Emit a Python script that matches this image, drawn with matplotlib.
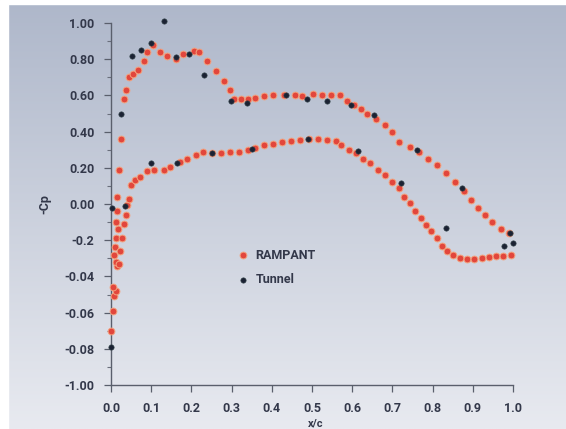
import matplotlib
matplotlib.use('Agg')
import matplotlib.pyplot as plt
import numpy as np
from matplotlib.ticker import MultipleLocator

# RAMPANT (computed) - upper surface, leading edge to trailing edge
ramp_up_x = [0.001, 0.005, 0.008, 0.012, 0.006, 0.014, 0.012, 0.008, 0.010, 0.012,
             0.017, 0.012, 0.014, 0.015, 0.019, 0.024, 0.032, 0.037, 0.044, 0.055,
             0.068, 0.081, 0.090, 0.104, 0.122, 0.140, 0.162, 0.180, 0.207, 0.220,
             0.238, 0.260, 0.280, 0.296, 0.305, 0.323, 0.341, 0.359, 0.381, 0.403,
             0.430, 0.457, 0.475, 0.502, 0.524, 0.547, 0.569, 0.587, 0.605, 0.623,
             0.636, 0.658, 0.681, 0.699, 0.716, 0.743, 0.766, 0.788, 0.810, 0.833,
             0.855, 0.877, 0.895, 0.913, 0.931, 0.949, 0.971, 0.989]
ramp_up_y = [-0.70, -0.59, -0.51, -0.48, -0.46, -0.34, -0.32, -0.28, -0.24, -0.19,
             -0.14, -0.10, -0.04, 0.04, 0.19, 0.36, 0.58, 0.63, 0.70, 0.72,
             0.74, 0.79, 0.84, 0.88, 0.84, 0.82, 0.80, 0.83, 0.845, 0.84,
             0.79, 0.735, 0.68, 0.63, 0.58, 0.58, 0.58, 0.585, 0.595, 0.60,
             0.60, 0.60, 0.595, 0.607, 0.60, 0.60, 0.60, 0.57, 0.545, 0.525,
             0.50, 0.47, 0.435, 0.40, 0.34, 0.315, 0.29, 0.25, 0.215, 0.17,
             0.12, 0.07, 0.02, -0.02, -0.06, -0.10, -0.14, -0.16]

# RAMPANT - lower surface
ramp_lo_x = [0.019, 0.023, 0.028, 0.032, 0.037, 0.041, 0.046, 0.050, 0.059, 0.072,
             0.090, 0.108, 0.131, 0.148, 0.171, 0.189, 0.211, 0.229, 0.251, 0.274,
             0.296, 0.318, 0.341, 0.359, 0.381, 0.403, 0.426, 0.448, 0.470, 0.493,
             0.515, 0.538, 0.560, 0.573, 0.591, 0.609, 0.627, 0.645, 0.663, 0.681,
             0.699, 0.716, 0.730, 0.743, 0.757, 0.770, 0.784, 0.797, 0.810, 0.824,
             0.837, 0.851, 0.869, 0.886, 0.904, 0.922, 0.940, 0.958, 0.976, 0.994]
ramp_lo_y = [-0.33, -0.26, -0.19, -0.11, -0.06, -0.005, 0.03, 0.105, 0.13, 0.15,
             0.18, 0.19, 0.19, 0.205, 0.23, 0.25, 0.27, 0.29, 0.28, 0.28,
             0.285, 0.29, 0.297, 0.31, 0.324, 0.333, 0.34, 0.346, 0.352, 0.357,
             0.357, 0.352, 0.346, 0.324, 0.297, 0.28, 0.25, 0.224, 0.187, 0.16,
             0.123, 0.087, 0.041, 0.005, -0.041, -0.078, -0.114, -0.151, -0.187, -0.233,
             -0.26, -0.28, -0.297, -0.306, -0.306, -0.297, -0.293, -0.288, -0.288, -0.282]

# wind tunnel measurements
tunnel_x = [0.003, 0.0, 0.026, 0.035, 0.051, 0.074, 0.100, 0.131, 0.162, 0.195,
            0.231, 0.299, 0.338, 0.436, 0.487, 0.538, 0.596, 0.655, 0.760, 0.873,
            0.834, 0.978, 0.992, 1.0,
            0.100, 0.165, 0.250, 0.351, 0.491, 0.614, 0.722]
tunnel_y = [-0.02, -0.79, 0.50, -0.01, 0.82, 0.85, 0.89, 1.01, 0.81, 0.83,
            0.71, 0.57, 0.56, 0.60, 0.58, 0.57, 0.545, 0.49, 0.30, 0.087,
            -0.134, -0.23, -0.162, -0.215,
            0.227, 0.224, 0.282, 0.302, 0.359, 0.295, 0.118]

yticks = [1.0, 0.8, 0.6, 0.4, 0.2, 0.0, -0.2, -0.4, -0.6, -0.8, -1.0]
ylabels = ['1.00', '0.80', '0.60', '0.40', '0.20', '0.00', '-0.2',
           '-0.04', '-0.06', '-0.08', '-1.00']
xticks = [0.0, 0.1, 0.2, 0.3, 0.4, 0.5, 0.6, 0.7, 0.8, 0.9, 1.0]
xlabels = ['0.0', '0.1', '0.2', '0.3', '0.4', '0.5', '0.6', '0.7', '0.8', '0.9', '1.0']

plt.rcParams['font.family'] = ['Roboto', 'DejaVu Sans']
txtcol = '#33384a'
fsz = 9

fig = plt.figure(figsize=(5.66, 4.29), dpi=100)

# scanned-page gradient background
bg = fig.add_axes([0, 0, 1, 1], zorder=-10)
g = np.linspace(0, 1, 256)[:, None]
top = np.array([174, 183, 202]) / 255.
bot = np.array([232, 234, 240]) / 255.
img = top[None, None, :] * (1 - g[:, :, None]) + bot[None, None, :] * g[:, :, None]
img = np.repeat(img, 4, axis=1)
bg.imshow(img, aspect='auto', extent=[0, 1, 0, 1], origin='upper')
bg.axvspan(0, 8 / 566., color='white')
bg.axhspan(1 - 4 / 429., 1, color='white')
bg.set_xlim(0, 1)
bg.set_ylim(0, 1)
bg.axis('off')

ax = fig.add_axes([111 / 566., 44 / 429., 402 / 566., 362 / 429.])
ax.set_facecolor('none')

ax.scatter(ramp_up_x, ramp_up_y, s=24, c='#e2463c', edgecolors='#f3a27e',
           linewidths=0.7, zorder=3, label='RAMPANT', clip_on=False)
ax.scatter(ramp_lo_x, ramp_lo_y, s=24, c='#e2463c', edgecolors='#f3a27e',
           linewidths=0.7, zorder=3, clip_on=False)
ax.scatter(tunnel_x, tunnel_y, s=15, c='#1b2233', edgecolors='#3a4a50',
           linewidths=0.4, zorder=4, label='Tunnel', clip_on=False)

ax.set_xlim(0, 1.0)
ax.set_ylim(-1.0, 1.0)
ax.set_xticks(xticks)
ax.set_xticklabels(xlabels)
ax.set_yticks(yticks)
ax.set_yticklabels(ylabels)
ax.yaxis.set_minor_locator(MultipleLocator(0.1))

for s in ['top', 'right']:
    ax.spines[s].set_visible(False)
for s in ['left', 'bottom']:
    ax.spines[s].set_color('#5a5f6c')
    ax.spines[s].set_linewidth(1.0)

ax.tick_params(axis='both', which='major', direction='out', length=5,
               width=0.9, color='#5a5f6c', labelcolor=txtcol, labelsize=fsz)
ax.tick_params(axis='y', which='minor', direction='out', length=3,
               width=0.8, color='#6a6f7c')
ax.tick_params(axis='x', pad=7)
ax.tick_params(axis='y', pad=7)
for lab in ax.get_xticklabels() + ax.get_yticklabels():
    lab.set_fontweight('bold')

ax.set_ylabel('-Cp', fontsize=fsz, fontweight='bold', color=txtcol, labelpad=9)
fig.text(0.557, 0.002, 'x/c', fontsize=8, fontweight='bold', color=txtcol,
         ha='center', va='bottom')

leg = ax.legend(loc='center left', bbox_to_anchor=(0.285, 0.325), frameon=False,
                handletextpad=0.5, labelspacing=0.9, fontsize=fsz,
                handlelength=1.0, scatterpoints=1)
for t in leg.get_texts():
    t.set_fontweight('bold')
    t.set_color(txtcol)

plt.savefig('out.png', dpi=100)
